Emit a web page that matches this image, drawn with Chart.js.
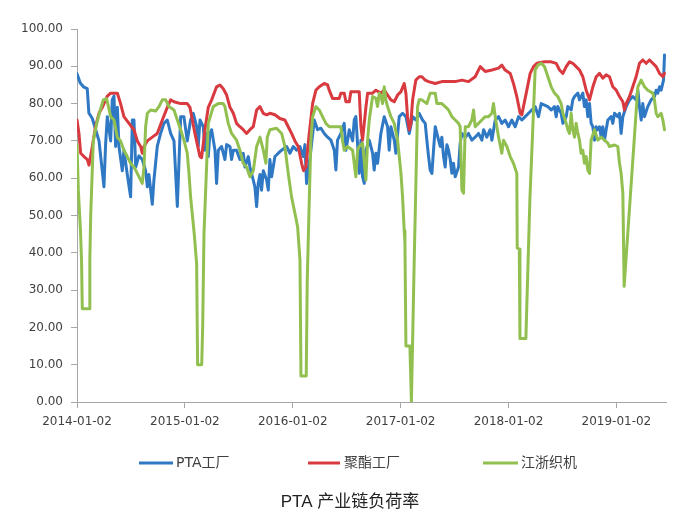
<!DOCTYPE html>
<html><head><meta charset="utf-8">
<script src="https://cdn.jsdelivr.net/npm/chart.js@4/dist/chart.umd.min.js"></script>
<style>html,body{margin:0;padding:0;background:#fff}canvas{display:block}</style>
</head><body>
<canvas id="c" width="674" height="524"></canvas>
<script>
const seriesNames = ['PTA工厂', '聚酯工厂', '江浙织机'];
const chartTitle = 'PTA 产业链负荷率';
const tickYears = [2014, 2015, 2016, 2017, 2018, 2019];
const tickLabels = ['2014-01-02', '2015-01-02', '2016-01-02', '2017-01-02', '2018-01-02', '2019-01-02'];

// PTA工厂 (x = decimal year)
const ptaX = [2014.0,2014.03,2014.06,2014.095,2014.11,2014.142,2014.173,2014.204,2014.25,2014.265,2014.281,2014.312,2014.327,2014.343,2014.358,2014.374,2014.389,2014.42,2014.435,2014.466,2014.497,2014.513,2014.528,2014.544,2014.574,2014.605,2014.636,2014.652,2014.667,2014.698,2014.713,2014.744,2014.775,2014.806,2014.837,2014.868,2014.899,2014.93,2014.961,2014.991,2015.022,2015.053,
2015.078,2015.109,2015.124,2015.14,2015.171,2015.186,2015.201,2015.217,2015.232,2015.248,2015.279,2015.294,2015.31,2015.34,2015.356,2015.371,2015.387,2015.418,2015.433,2015.449,2015.479,2015.51,2015.541,2015.557,2015.588,2015.603,2015.634,2015.649,2015.665,2015.68,2015.696,2015.711,2015.727,2015.758,2015.773,2015.788,2015.804,2015.835,2015.866,2015.897,2015.943,2015.974,2016.005,2016.036,2016.066,2016.097,2016.113,2016.128,2016.145,
2016.168,2016.199,2016.23,2016.261,2016.292,2016.323,2016.354,2016.385,2016.4,2016.415,2016.446,2016.477,2016.493,2016.524,2016.555,2016.57,2016.585,2016.601,2016.616,2016.632,2016.647,2016.663,2016.678,2016.709,2016.74,2016.755,2016.771,2016.786,2016.817,2016.848,2016.879,2016.894,2016.91,2016.941,2016.956,2016.987,2017.018,2017.049,2017.08,2017.111,2017.141,2017.172,2017.203,
2017.228,2017.243,2017.259,2017.274,2017.29,2017.305,2017.321,2017.336,2017.367,2017.382,2017.398,2017.413,2017.429,2017.444,2017.46,2017.475,2017.49,2017.506,2017.537,2017.552,2017.568,2017.599,2017.629,2017.66,2017.691,2017.722,2017.753,2017.769,2017.799,2017.83,2017.846,2017.877,2017.908,2017.938,2017.969,2018.0,2018.031,2018.062,2018.093,2018.124,2018.155,2018.186,2018.216,2018.247,2018.278,
2018.303,2018.334,2018.365,2018.396,2018.426,2018.442,2018.457,2018.488,2018.504,2018.535,2018.55,2018.581,2018.596,2018.612,2018.643,2018.658,2018.689,2018.704,2018.72,2018.735,2018.751,2018.766,2018.782,2018.797,2018.813,2018.828,2018.844,2018.859,2018.874,2018.89,2018.905,2018.921,2018.952,2018.967,2018.983,2019.013,2019.029,2019.044,2019.06,2019.091,2019.122,2019.152,2019.183,2019.199,2019.214,2019.23,2019.245,2019.261,2019.291,2019.322,2019.353,2019.369,2019.384,2019.4,2019.415,2019.437,2019.446];
const ptaY = [88,85.5,84.5,84,77.5,76,73,70,57.7,69,76.5,70,81,82,68.5,79,68.5,62,67.5,61,55,75.6,75.6,63,66,65,62,57.7,61,53,59.5,68.5,72,74.7,75.6,72,70,52.4,76.5,76.5,70,75.6,
77.4,73.8,68.5,75.6,73.8,67.5,72,65.8,72,73,67.5,58.6,67.5,68.5,66.7,65,69,68.5,65,67.5,67.5,65,66.7,63,65.8,63,59.5,57.7,52.4,58.6,61,56.8,62,59.5,56.8,65,60.4,65.8,66.7,67.5,68.5,66.7,68.5,67.5,68.5,65.8,69,58.6,62,
67.5,75.6,73,73.4,72,71,70.2,67.5,62.2,70.2,72,74.7,67.5,73,70,75.6,76.5,69,61.3,70.2,60.4,58.6,67.5,70.2,66.7,62.2,66.7,64,72,76.5,73.8,67.5,73.8,70.2,66.7,76.5,77.4,76.5,72,76.5,75.6,77.4,75.6,
74.7,70.2,65.8,62.2,61.3,67.5,73.8,72,68.5,71,65.8,63,69,67.5,65,61.3,64,60.4,63,69.4,72,71,72,70.2,71,72,70.2,73,71,73,70.2,75.6,76.5,74.7,75.6,73.8,75.6,73.8,76.5,75.6,76.5,77.4,78.3,79.2,76.5,
80,79.6,79.2,78.3,79.2,76.5,79.2,77.4,74.7,76.5,79.2,78.3,81,81.9,82.8,81,82.8,79.2,81,76.5,80,74.7,73.8,70.2,73.8,73,73.8,71,73.8,70.2,73,75.6,76.5,74.7,77.4,76.5,77.4,72,76.5,79.2,81,81.9,81,83.6,79.2,75.6,80,76.5,79.2,81,81.9,83.6,82.8,84.5,83.6,86.3,93];

// 聚酯工厂
const polyX = [2014.0,2014.018,2014.034,2014.065,2014.096,2014.111,2014.142,2014.173,2014.204,2014.235,2014.281,2014.312,2014.374,2014.404,2014.435,2014.482,2014.528,2014.559,2014.59,2014.605,2014.621,2014.652,2014.698,2014.744,2014.791,2014.837,2014.868,2014.899,2014.961,2015.022,
2015.047,2015.093,2015.14,2015.155,2015.186,2015.217,2015.248,2015.294,2015.325,2015.356,2015.387,2015.418,2015.449,2015.479,2015.51,2015.541,2015.572,2015.603,2015.634,2015.665,2015.696,2015.727,2015.758,2015.788,2015.835,2015.881,2015.927,2015.958,2015.989,2016.02,2016.051,2016.082,2016.1,
2016.122,2016.153,2016.184,2016.215,2016.246,2016.292,2016.323,2016.338,2016.369,2016.431,2016.446,2016.477,2016.493,2016.524,2016.539,2016.616,2016.632,2016.647,2016.663,2016.678,2016.694,2016.74,2016.771,2016.817,2016.848,2016.879,2016.91,2016.941,2016.972,2017.003,2017.033,2017.049,2017.064,2017.08,2017.095,2017.111,2017.141,2017.172,
2017.197,2017.228,2017.259,2017.321,2017.382,2017.444,2017.506,2017.568,2017.629,2017.691,2017.738,2017.784,2017.846,2017.908,2017.938,2017.969,2018.016,2018.046,2018.077,2018.108,2018.124,2018.139,2018.17,2018.201,2018.232,2018.263,
2018.334,2018.396,2018.442,2018.473,2018.504,2018.535,2018.565,2018.596,2018.627,2018.658,2018.689,2018.72,2018.751,2018.782,2018.813,2018.844,2018.874,2018.905,2018.936,2018.967,2018.998,2019.029,2019.06,2019.075,2019.091,2019.122,2019.152,2019.183,2019.214,2019.245,2019.276,2019.307,2019.338,2019.369,2019.4,2019.431,2019.446];
const polyY = [75.6,72,66.7,65.8,65,63.5,68.5,74,77.4,79,82,82.8,82.8,80,76.5,74.7,73,70,68.5,66.7,68.5,70,71,72,75.6,79,81,80.5,80,80,
79,72,65.8,65.5,73,79,81,84.5,85,84,82.3,79,77.4,74.7,73.8,73,72,73,73.8,78.3,79.2,77.4,77,77.4,77,76,75.6,73.8,72,70,68.5,64,62,
63,72,80,83.6,84.5,85.4,85,83.6,81.4,81.4,82.8,82.8,80.5,80.5,83.2,83.2,73.8,70.2,74.7,79,82.8,82.8,83.6,82.8,83.6,82.3,81,80.5,82.3,83.2,85.4,82.8,76.5,73,74.7,81,86.3,87.2,
87.2,86.3,85.9,85.4,85.9,85.9,85.9,86.3,85.9,87.2,89.9,88.6,89,89.5,90.3,89,88.1,85.4,81.9,77.4,77,79.2,83.6,88.1,89.9,90.8,
91.2,91.2,90.8,89,88.1,89.9,91.2,90.8,89.9,89,87.2,83.6,81,84.5,87.2,88.1,86.8,87.7,87.2,84.5,83.6,81.9,80.5,78.3,80,81.9,84.5,87.2,90.8,91.7,90.8,91.7,90.8,89.9,88.1,87.2,88.1];

// 江浙织机
const weaveX = [2014.0,2014.012,2014.032,2014.042,2014.049,2014.116,2014.119,2014.127,2014.151,2014.183,2014.213,2014.244,2014.275,2014.312,2014.343,2014.374,2014.404,2014.435,2014.466,2014.497,2014.528,2014.559,2014.59,2014.605,2014.621,2014.636,2014.652,2014.683,2014.729,2014.76,2014.791,2014.822,2014.852,2014.899,2014.93,2014.961,2014.991,2015.022,2015.038,2015.053,
2015.087,2015.109,2015.118,2015.156,2015.165,2015.177,2015.189,2015.217,2015.263,2015.31,2015.356,2015.371,2015.402,2015.433,2015.479,2015.51,2015.541,2015.572,2015.603,2015.634,2015.665,2015.696,2015.727,2015.751,2015.764,2015.788,2015.85,2015.897,2015.927,2015.958,2015.989,2016.02,2016.045,2016.067,2016.076,2016.125,2016.134,2016.153,
2016.168,2016.184,2016.215,2016.246,2016.276,2016.307,2016.338,2016.446,2016.462,2016.477,2016.508,2016.555,2016.585,2016.601,2016.616,2016.647,2016.678,2016.694,2016.709,2016.74,2016.771,2016.786,2016.802,2016.817,2016.833,2016.848,2016.863,2016.879,2016.91,2016.941,2016.972,2017.003,2017.018,2017.033,2017.04,2017.049,2017.086,2017.1,2017.126,2017.157,2017.172,
2017.197,2017.243,2017.274,2017.321,2017.336,2017.382,2017.413,2017.444,2017.475,2017.506,2017.537,2017.552,2017.568,2017.583,2017.599,2017.629,2017.66,2017.676,2017.691,2017.722,2017.753,2017.784,2017.815,2017.846,2017.861,2017.877,2017.908,2017.938,2017.954,2017.985,2018.016,2018.046,2018.077,2018.081,2018.1,2018.106,2018.161,2018.198,2018.247,
2018.272,2018.303,2018.334,2018.365,2018.396,2018.426,2018.457,2018.488,2018.504,2018.535,2018.55,2018.565,2018.581,2018.596,2018.612,2018.627,2018.643,2018.658,2018.673,2018.689,2018.704,2018.72,2018.735,2018.751,2018.766,2018.797,2018.828,2018.859,2018.89,2018.921,2018.936,2018.983,2019.013,2019.029,2019.044,2019.06,2019.072,2019.199,2019.23,2019.261,2019.291,2019.338,2019.353,2019.369,2019.384,2019.415,2019.431,2019.446];
const weaveY = [69,57,46,38,25,25,38,50,70,74.7,78,81,81.3,76.5,75.6,71,70,67.5,65.8,64,63,61.3,59.5,58.6,63,73.8,77.4,78.3,78,79.2,81,81,79.2,78.3,75.6,73,70.2,66.7,61.3,55,
45,37,10,10,20,45,54,74.7,79.2,80,80,79.2,74.7,72,70.2,67.5,64,63,60.4,62,68.5,71,67.5,64,71,73,73.4,72,68.5,61.3,55,50.6,47,38,7,7,32,54,
70,76.5,79.2,78.3,76.5,74.7,73.8,73.8,70,67.5,68.5,67.5,60.4,67.5,68.5,69.4,59.5,70.2,75.6,81.9,81.4,79.2,82.8,82,80,84.5,81,79.2,76.5,74.7,70.2,61.3,55,46,42.6,15,15,0,38,79.2,81,
81,80,82.8,82.8,80,80,79.2,78.3,76.5,75.6,74.7,73.8,56.8,56,73.8,73.8,75.6,78.3,73.8,74.7,75.6,76.5,76.5,77.4,80,76.5,71,66.7,70.2,68.5,65.8,64,61.3,41.3,41,17,17,54,89,
90.3,90.8,89.9,87.2,84.5,82.8,81.9,80,77.4,74.7,73,72,77.4,73,71,74.7,72,70.2,66.7,67.5,64,65.8,62.2,61.3,70.2,73,70.2,71,70.2,69.4,68.5,68.9,68.5,64,61.3,56,31,84.5,86.3,84.5,83.6,82.8,81,77.4,76.5,77.4,75.6,73];

const seriesColors = ['#2F78C4', '#D83A3F', '#92C050'];

const toPoints = (xs, ys) => xs.map((x, i) => ({ x: x, y: ys[i] }));

const legendAndTitle = {
  id: 'legendAndTitle',
  afterDraw(chart) {
    const ctx = chart.ctx;
    ctx.save();
    const pos = [[139, 173, 176], [308, 340, 344], [483, 518, 521]];
    const ly = 463;
    chart.data.datasets.forEach((ds, i) => {
      const p = pos[i];
      ctx.strokeStyle = ds.borderColor;
      ctx.lineWidth = 3;
      ctx.lineCap = 'butt';
      ctx.beginPath();
      ctx.moveTo(p[0], ly);
      ctx.lineTo(p[1], ly);
      ctx.stroke();
      ctx.fillStyle = '#404040';
      ctx.font = '14px "DejaVu Sans", "Noto Sans CJK SC", sans-serif';
      ctx.textAlign = 'left';
      ctx.textBaseline = 'middle';
      ctx.fillText(ds.label, p[2], ly);
    });
    ctx.fillStyle = '#222';
    ctx.font = '17px "Liberation Sans", "Noto Sans CJK SC", sans-serif';
    ctx.textAlign = 'center';
    ctx.textBaseline = 'middle';
    ctx.fillText(chartTitle, 350, 502);
    ctx.restore();
  }
};

const axisGray = '#a6a6a6';
const tickFont = { family: '"DejaVu Sans", sans-serif', size: 12 };

new Chart(document.getElementById('c'), {
  type: 'line',
  data: {
    datasets: [
      { label: seriesNames[0], data: toPoints(ptaX, ptaY), borderColor: seriesColors[0], order: 3 },
      { label: seriesNames[1], data: toPoints(polyX, polyY), borderColor: seriesColors[1], order: 2 },
      { label: seriesNames[2], data: toPoints(weaveX, weaveY), borderColor: seriesColors[2], order: 1 }
    ]
  },
  options: {
    responsive: false,
    devicePixelRatio: 1,
    animation: false,
    events: [],
    layout: { padding: { top: 29, right: 8, bottom: 0, left: 0 } },
    elements: {
      point: { radius: 0 },
      line: { borderWidth: 3, tension: 0, borderJoinStyle: 'round', borderCapStyle: 'round', fill: false }
    },
    plugins: { legend: { display: false }, tooltip: { enabled: false }, title: { display: false } },
    scales: {
      x: {
        type: 'linear',
        min: 2014,
        max: 2019.46,
        afterBuildTicks: (s) => { s.ticks = tickYears.map(v => ({ value: v })); },
        afterFit: (s) => { s.height = 122; },
        ticks: {
          autoSkip: false, maxRotation: 0, minRotation: 0, padding: 7,
          color: '#404040', font: tickFont,
          callback: (v) => { const i = tickYears.indexOf(v); return i >= 0 ? tickLabels[i] : ''; }
        },
        grid: { drawOnChartArea: false, drawTicks: true, tickLength: 6, color: axisGray },
        border: { display: true, color: axisGray, width: 1 }
      },
      y: {
        min: 0,
        max: 100,
        afterFit: (s) => { s.width = 77; },
        ticks: {
          stepSize: 10, padding: 8, color: '#404040', font: tickFont,
          callback: (v) => Number(v).toFixed(2)
        },
        grid: { drawOnChartArea: false, drawTicks: true, tickLength: 6, color: axisGray },
        border: { display: true, color: axisGray, width: 1 }
      }
    }
  },
  plugins: [legendAndTitle]
});
</script>
</body></html>
